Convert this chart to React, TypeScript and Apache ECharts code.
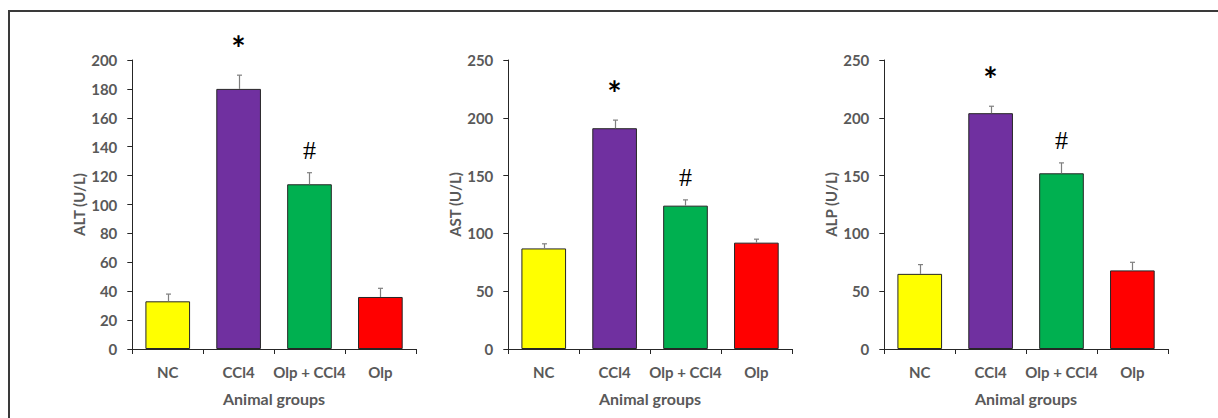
import React, { useEffect, useRef } from "react";
import * as echarts from "echarts";

// Groups shared by the three enzyme panels
const groups = ["NC", "CCl4", "Olp + CCl4", "Olp"];
const groupColors = ["#FFFF00", "#7030A0", "#00B050", "#FF0000"];
const sigMarks = ["", "*", "#", ""];

// Serum enzyme activities (U/L): means and standard errors
const altMean = [33, 180, 114, 36];
const altErr = [5, 9.5, 8, 6];
const astMean = [87, 191, 124, 92];
const astErr = [4, 7, 5, 3];
const alpMean = [65, 204, 152, 68];
const alpErr = [8, 6, 9, 7];

// Axis settings per panel
const panelNames = ["ALT (U/L)", "AST (U/L)", "ALP (U/L)"];
const panelMax = [200, 250, 250];
const panelInterval = [20, 50, 50];
const panelMeans = [altMean, astMean, alpMean];
const panelErrs = [altErr, astErr, alpErr];

const gridLefts = [132.3, 508.3, 884.3];
const FONT = "Lato, 'Open Sans', sans-serif";

export default function App() {
  const ref = useRef<HTMLDivElement>(null);

  useEffect(() => {
    if (!ref.current) return;
    const chart = echarts.init(ref.current, undefined, { renderer: "svg" });

    const grids = gridLefts.map((left) => ({
      left,
      top: 60,
      width: 283.5,
      height: 289,
      containLabel: false,
    }));

    const xAxes = grids.map((_, i) => ({
      type: "category",
      gridIndex: i,
      data: groups,
      boundaryGap: true,
      name: "Animal groups",
      nameLocation: "middle",
      nameGap: 41,
      nameTextStyle: { color: "#595959", fontSize: 16, fontWeight: "bold", fontFamily: FONT },
      axisLine: { lineStyle: { color: "#262626", width: 1 } },
      axisTick: { show: true, inside: false, length: 5, alignWithLabel: false, lineStyle: { color: "#262626" } },
      axisLabel: { color: "#595959", fontSize: 15, fontWeight: "bold", fontFamily: FONT, margin: 15, interval: 0 },
      splitLine: { show: false },
    }));

    const yAxes = grids.map((_, i) => ({
      type: "value",
      gridIndex: i,
      min: 0,
      max: panelMax[i],
      interval: panelInterval[i],
      name: panelNames[i],
      nameLocation: "middle",
      nameGap: 46,
      nameTextStyle: { color: "#595959", fontSize: 15, fontWeight: "bold", fontFamily: FONT },
      axisLine: { show: true, lineStyle: { color: "#262626", width: 1 } },
      axisTick: { show: true, inside: false, length: 5, lineStyle: { color: "#262626" } },
      axisLabel: { color: "#595959", fontSize: 15, fontWeight: "bold", fontFamily: FONT, margin: 15 },
      splitLine: { show: false },
    }));

    const series: any[] = [];
    panelMeans.forEach((means, i) => {
      series.push({
        type: "bar",
        xAxisIndex: i,
        yAxisIndex: i,
        barWidth: "63%",
        data: means.map((v, k) => ({
          value: v,
          itemStyle: { color: groupColors[k], borderColor: "#262626", borderWidth: 1 },
        })),
        z: 2,
      });
      const errs = panelErrs[i];
      series.push({
        type: "custom",
        xAxisIndex: i,
        yAxisIndex: i,
        data: means.map((v, k) => [k, v, errs[k]]),
        z: 3,
        renderItem: (params: any, api: any) => {
          const k = api.value(0);
          const v = api.value(1);
          const e = api.value(2);
          const base = api.coord([k, v]);
          const top = api.coord([k, v + e]);
          const x = Math.round(base[0]) + 0.5;
          const children: any[] = [
            {
              type: "line",
              shape: { x1: x, y1: base[1], x2: x, y2: top[1] },
              style: { stroke: "#7f7f7f", lineWidth: 1.2 },
            },
            {
              type: "line",
              shape: { x1: x - 2.5, y1: top[1], x2: x + 2.5, y2: top[1] },
              style: { stroke: "#7f7f7f", lineWidth: 1.2 },
            },
          ];
          const mark = sigMarks[k];
          if (mark === "*") {
            children.push({
              type: "text",
              x: x - 1,
              y: top[1] - 28,
              style: {
                text: "*",
                fill: "#000",
                font: `bold 34px ${FONT}`,
                align: "center",
                verticalAlign: "middle",
              },
            });
          } else if (mark === "#") {
            children.push({
              type: "text",
              x: x,
              y: top[1] - 22,
              style: {
                text: "#",
                fill: "#000",
                font: `26px 'Liberation Serif', serif`,
                align: "center",
                verticalAlign: "middle",
              },
            });
          }
          return { type: "group", children };
        },
      });
    });

    chart.setOption({
      animation: false,
      backgroundColor: "#ffffff",
      grid: grids,
      xAxis: xAxes,
      yAxis: yAxes,
      series,
      graphic: [
        {
          type: "rect",
          shape: { x: 9, y: 11, width: 1400, height: 600 },
          style: { fill: "none", stroke: "#3a3a3a", lineWidth: 2 },
          silent: true,
          z: 10,
        },
      ],
    });

    return () => chart.dispose();
  }, []);

  return (
    <div
      ref={ref}
      style={{ position: "fixed", left: 0, top: 0, width: 1218, height: 418, background: "#fff" }}
    />
  );
}
